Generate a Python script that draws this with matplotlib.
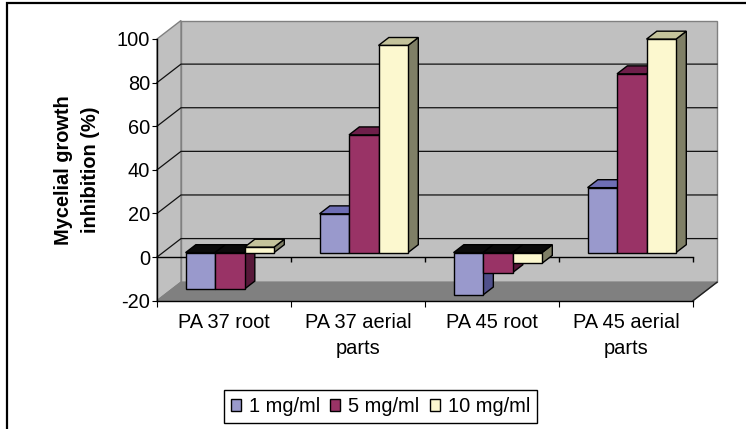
import matplotlib
matplotlib.use("Agg")
import matplotlib.pyplot as plt
from matplotlib.patches import Polygon, Rectangle, Patch

plt.rcParams["font.family"] = ["Liberation Sans", "DejaVu Sans"]

# ---- data -------------------------------------------------------------
categories = ["PA 37 root", "PA 37 aerial\nparts", "PA 45 root", "PA 45 aerial\nparts"]
series_names = ["1 mg/ml", "5 mg/ml", "10 mg/ml"]
conc_1 = [-16.5, 17.8, -19.4, 29.8]
conc_5 = [-16.7, 54.0, -9.2, 82.0]
conc_10 = [2.5, 95.0, -4.9, 97.9]
y_ticks = [-20, 0, 20, 40, 60, 80, 100]

# face colours per series: front, top, side
front_cols = ["#9999CC", "#993366", "#FCF8CF"]
top_cols = ["#6E6EB4", "#6E1F4A", "#C4C39B"]
side_cols = ["#50508C", "#571839", "#7F7F66"]

FS = 14.4
W, H = 746, 429
fig = plt.figure(figsize=(W / 100, H / 100), dpi=100)
fig.patch.set_facecolor("white")

# front plane of the 3-D box
L, R, T, B = 157, 693, 39, 300.7
ax = fig.add_axes([L / W, 1 - B / H, (R - L) / W, (B - T) / H])
ax.set_xlim(0, 4)
ax.set_ylim(-20, 100)
ax.patch.set_visible(False)

px_x = 4 / (R - L)
px_y = 120 / (B - T)
DX, DY = 24 * px_x, 18.5 * px_y  # depth vector of the box


def shift(pts, f):
    return [(x + f * DX, y + f * DY) for x, y in pts]


# walls and floor
back = shift([(0, -20), (4, -20), (4, 100), (0, 100)], 1)
left = [(0, -20), (0, 100), (DX, 100 + DY), (DX, -20 + DY)]
floor = [(0, -20), (4, -20), (4 + DX, -20 + DY), (DX, -20 + DY)]
for poly, fc in [(back, "#C0C0C0"), (left, "#C0C0C0"), (floor, "#808080")]:
    ax.add_patch(Polygon(poly, closed=True, facecolor=fc, edgecolor="#808080",
                         linewidth=1.0, zorder=0.5, clip_on=False))
ax.plot([4, 4 + DX], [-20, -20 + DY], color="#202020", lw=1.0, zorder=0.8, clip_on=False)

# gridlines on the walls
for v in y_ticks[1:-1]:
    ax.plot([0, DX, 4 + DX], [v, v + DY, v + DY], color="#111111", lw=0.9,
            zorder=0.9, clip_on=False)

# category axis line at zero on the front plane
ax.plot([0, 4], [0, 0], color="black", lw=1.0, zorder=1.0, clip_on=False)
ax.vlines([1, 2, 3, 4], -5 * px_y, 0, color="black", lw=1.0, zorder=1.0, clip_on=False)

# 3-D bars
series = [conc_1, conc_5, conc_10]
z0, z1 = 0.24, 0.67
bw = 0.22
zo = 3
for i in range(len(categories)):
    for k, vals in enumerate(series):
        v = vals[i]
        x0 = i + 0.17 + k * bw
        x1 = x0 + bw
        ytop = max(v, 0)
        side = shift([(x1, 0), (x1, v)], z0) + shift([(x1, v), (x1, 0)], z1)
        top = shift([(x0, ytop), (x1, ytop)], z0) + shift([(x1, ytop), (x0, ytop)], z1)
        front = shift([(x0, 0), (x1, 0), (x1, v), (x0, v)], z0)
        tcol = top_cols[k] if v >= 0 else "#0A0A0A"
        for poly, fc in [(side, side_cols[k]), (top, tcol), (front, front_cols[k])]:
            ax.add_patch(Polygon(poly, closed=True, facecolor=fc, edgecolor="black",
                                 linewidth=1.0, zorder=zo, clip_on=False))
        zo += 0.01

# axes
for s in ["top", "right"]:
    ax.spines[s].set_visible(False)
for s in ["left", "bottom"]:
    ax.spines[s].set_color("black")
    ax.spines[s].set_linewidth(1.0)
    ax.spines[s].set_zorder(5)
ax.set_yticks(y_ticks)
ax.set_yticklabels([str(t) for t in y_ticks])
ax.tick_params(axis="y", direction="out", length=3.6, width=0.8, pad=1.5,
               labelsize=FS, colors="black")
ax.set_xticks([0.5, 1.5, 2.5, 3.5])
ax.set_xticklabels(categories, fontsize=FS, linespacing=1.45)
ax.tick_params(axis="x", which="major", length=0, pad=9.0)
ax.set_xticks([0, 1, 2, 3, 4], minor=True)
ax.tick_params(axis="x", which="minor", direction="out", length=4.3, width=0.8)

fig.text(77 / W, 1 - 170 / H, "Mycelial growth\ninhibition (%)", rotation=90,
         ha="center", va="center", fontsize=FS, fontweight="bold",
         multialignment="center", linespacing=1.5)

handles = [Patch(facecolor=front_cols[k], edgecolor="black", linewidth=1.0)
           for k in range(3)]
leg = fig.legend(handles, series_names, loc="center",
                 bbox_to_anchor=(380.5 / W, 1 - 406.5 / H), ncol=3,
                 fontsize=FS, frameon=True, fancybox=False, framealpha=1,
                 edgecolor="black", handlelength=0.5, handleheight=0.5,
                 handletextpad=0.4, columnspacing=0.5, borderpad=0.35,
                 borderaxespad=0)
leg.get_frame().set_linewidth(1.0)

# chart-area border
fig.add_artist(Rectangle((7 / W, -0.1), 1.2, 1.1 - 3 / H, transform=fig.transFigure,
                         fill=False, edgecolor="black", linewidth=1.6))

fig.savefig("out.png", dpi=100)
